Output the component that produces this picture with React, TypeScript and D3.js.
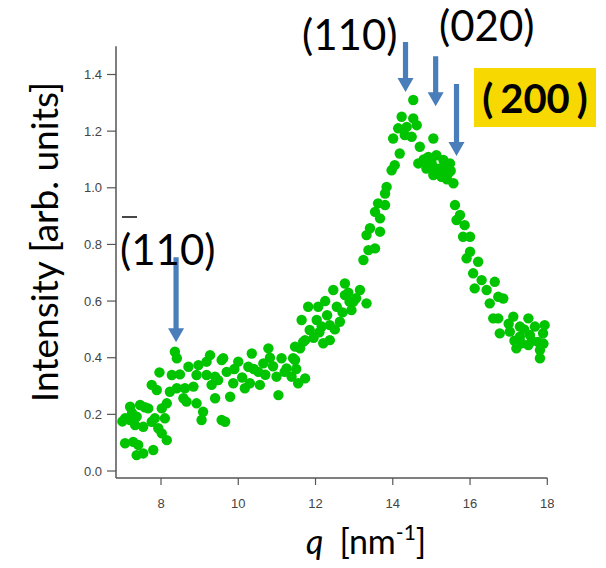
import React from "react";
import * as d3 from "d3";

const qValues = [
  7.0, 7.07, 7.2, 7.2, 7.46, 7.37, 7.33, 7.54, 7.67, 7.76, 7.84, 7.93, 8.02, 8.15, 8.1, 8.02, 8.15,
  7.07, 7.28, 7.41, 7.37, 7.54, 7.8, 7.58, 7.25,
  7.76, 7.89, 7.96, 8.23, 8.28, 8.36, 8.41, 8.41, 8.49, 8.58, 8.62, 8.66, 8.71, 8.84, 8.92, 8.92,
  8.97, 9.05, 9.09, 9.18, 9.18, 9.27, 9.31, 9.4, 9.4, 9.48, 9.57, 9.57, 9.61, 9.66, 9.79, 9.87,
  10.0, 10.17, 10.26, 10.35, 10.52, 10.56, 10.78, 10.82, 10.65, 10.99, 11.04, 11.12, 11.25, 11.38,
  11.47, 11.47, 11.6, 11.73, 11.73, 11.42, 11.68,
  10.1, 10.4, 10.7, 10.9, 11.2, 11.5, 11.55, 10.3, 9.7, 9.9,
  11.85, 11.64, 11.81, 12.07, 12.03, 12.16, 12.2, 12.37, 12.37, 12.55, 12.63, 12.46, 12.76, 12.76,
  12.93, 12.98, 13.15, 13.32, 12.88,
  12.1, 12.3, 12.5, 12.7, 12.85, 13.05, 12.25, 11.95,
  13.24, 13.37, 13.54, 13.32, 13.41, 13.67, 13.54, 13.67, 13.62, 13.8, 13.8, 13.84, 13.97, 14.05,
  14.18, 14.01, 14.14, 14.23, 14.36, 14.31, 14.49, 14.53, 14.62, 14.53, 14.7, 14.66, 14.87, 14.92,
  15.05, 15.05, 15.05, 15.13, 15.22, 15.26, 15.31, 15.44, 15.48, 15.57,
  15.15, 15.35, 15.0, 14.8, 15.4, 15.2, 15.5,
  15.61, 15.74, 15.65, 15.86, 15.82, 16.0, 16.0, 15.91, 16.21, 16.08, 16.3, 16.64, 16.12, 16.43,
  16.73, 16.86, 16.51, 16.6, 16.73, 17.12, 17.51, 17.93, 16.77, 17.03, 17.29, 17.68, 17.29, 17.55,
  17.89, 17.33, 17.51, 17.76, 17.2, 17.81, 17.81,
  17.0, 17.4, 17.6, 17.15, 17.9,
];

const intensityValues = [
  0.175, 0.186, 0.18, 0.227, 0.233, 0.192, 0.162, 0.156, 0.221, 0.174, 0.186, 0.151, 0.133, 0.109, 0.186, 0.221, 0.239,
  0.098, 0.103, 0.092, 0.056, 0.062, 0.074, 0.225, 0.205,
  0.304, 0.286, 0.348, 0.28, 0.339, 0.421, 0.398, 0.292, 0.341, 0.257, 0.292, 0.245, 0.368, 0.298, 0.239, 0.339,
  0.374, 0.18, 0.209, 0.339, 0.386, 0.409, 0.304, 0.257, 0.333, 0.321, 0.392, 0.18, 0.398, 0.174, 0.262, 0.31,
  0.386, 0.292, 0.368, 0.415, 0.35, 0.304, 0.433, 0.4, 0.38, 0.333, 0.268, 0.398, 0.362, 0.333,
  0.392, 0.439, 0.433, 0.327, 0.462, 0.398, 0.456,
  0.33, 0.36, 0.34, 0.37, 0.35, 0.36, 0.31, 0.31, 0.35, 0.36,
  0.498, 0.533, 0.58, 0.58, 0.533, 0.51, 0.451, 0.462, 0.515, 0.58, 0.527, 0.639, 0.662, 0.621,
  0.568, 0.598, 0.639, 0.592, 0.598,
  0.49, 0.55, 0.5, 0.56, 0.63, 0.61, 0.6, 0.47,
  0.745, 0.78, 0.786, 0.833, 0.857, 0.845, 0.915, 0.892, 0.945, 0.939, 0.98, 1.003, 1.062, 1.08,
  1.121, 1.174, 1.21, 1.251, 1.215, 1.186, 1.18, 1.245, 1.221, 1.31, 1.145, 1.086, 1.068, 1.109,
  1.174, 1.074, 1.045, 1.115, 1.068, 1.039, 1.098, 1.051, 1.086, 1.016,
  1.06, 1.07, 1.09, 1.1, 1.03, 1.05, 1.06,
  0.939, 0.904, 0.886, 0.868, 0.827, 0.827, 0.774, 0.751, 0.739, 0.698, 0.674, 0.668, 0.645, 0.639,
  0.615, 0.609, 0.592, 0.539, 0.539, 0.545, 0.539, 0.515, 0.486, 0.492, 0.51, 0.51, 0.474, 0.48,
  0.486, 0.451, 0.445, 0.456, 0.433, 0.427, 0.398,
  0.52, 0.5, 0.46, 0.46, 0.45,
];

const xTicks = [8, 10, 12, 14, 16, 18];
const yTicks = [0.0, 0.2, 0.4, 0.6, 0.8, 1.0, 1.2, 1.4];

// peak annotation arrows: q position, tip intensity, arrow length (px)
const arrowQ = [14.33, 15.11, 15.65, 8.39];
const arrowTip = [1.338, 1.288, 1.112, 0.455];
const arrowLen = [50, 50, 72, 85];

const W = 606;
const H = 568;

export default function App() {
  const x = d3.scaleLinear().domain([8, 18]).range([161, 547.3]);
  const y = d3.scaleLinear().domain([0, 1.4]).range([471, 74.5]);
  const axisY = 478;
  const axisX = 116;
  const axisColor = "#555";
  const tickFont = "'Liberation Sans', Arial, sans-serif";
  const labelFont = "Lato, 'Open Sans', sans-serif";
  const arrowColor = "#4a7ebb";

  const points = qValues.map((q, i) => ({ q, v: intensityValues[i] }));

  const arrow = (cx: number, tipY: number, len: number, key: number) => {
    const shaft = 2.6;
    const headW = 8;
    const headL = 14;
    const top = tipY - len;
    const d = [
      [cx - shaft, top],
      [cx + shaft, top],
      [cx + shaft, tipY - headL],
      [cx + headW, tipY - headL],
      [cx, tipY],
      [cx - headW, tipY - headL],
      [cx - shaft, tipY - headL],
    ];
    return <polygon key={key} points={d.map((p) => p.join(",")).join(" ")} fill={arrowColor} />;
  };

  return (
    <svg
      width={W}
      height={H}
      style={{ position: "absolute", left: 0, top: 0, background: "#fff" }}
    >
      <rect x={0} y={0} width={W} height={H} fill="#fff" />
      {/* axes */}
      <line x1={axisX} y1={axisY} x2={x(18)} y2={axisY} stroke={axisColor} strokeWidth={1.5} />
      <line x1={axisX} y1={axisY} x2={axisX} y2={y(1.5)} stroke={axisColor} strokeWidth={1.5} />
      {xTicks.map((t) => (
        <g key={"xt" + t}>
          <line x1={x(t)} x2={x(t)} y1={axisY} y2={axisY + 7} stroke={axisColor} strokeWidth={1.2} />
          <text
            x={x(t)}
            y={axisY + 30}
            textAnchor="middle"
            fontFamily={tickFont}
            fontSize={13}
            fill="#444"
          >
            {t}
          </text>
        </g>
      ))}
      {yTicks.map((t) => (
        <g key={"yt" + t}>
          <line x1={axisX - 9} x2={axisX} y1={y(t)} y2={y(t)} stroke={axisColor} strokeWidth={1.2} />
          <text
            x={axisX - 14}
            y={y(t) + 4.5}
            textAnchor="end"
            fontFamily={tickFont}
            fontSize={13}
            fill="#444"
          >
            {t.toFixed(1)}
          </text>
        </g>
      ))}

      {/* data */}
      {points.map((p, i) => (
        <circle key={i} cx={x(p.q)} cy={y(p.v)} r={5.2} fill="#00c400" />
      ))}

      {/* arrows */}
      {arrowQ.map((q, i) => arrow(x(q), y(arrowTip[i]), arrowLen[i], i))}

      {/* annotations */}
      <text x={302} y={50} fontFamily={labelFont} fontSize={42} fill="#000">
        (110)
      </text>
      <text x={439} y={41} fontFamily={labelFont} fontSize={42} fill="#000">
        (020)
      </text>
      <rect x={474} y={68} width={122} height={59} fill="#f7d800" />
      <text x={535} y={113} textAnchor="middle" fontFamily={labelFont} fontSize={40} fontWeight="bold" fill="#000">
        <tspan>(</tspan>
        <tspan dx={7}>200</tspan>
        <tspan dx={7}>)</tspan>
      </text>
      <line x1={122} x2={137} y1={217} y2={217} stroke="#333" strokeWidth={1.8} />
      <text x={120} y={265} fontFamily={labelFont} fontSize={42} fill="#000">
        (110)
      </text>

      {/* axis titles */}
      <text
        transform={`translate(58,242) rotate(-90)`}
        textAnchor="middle"
        fontFamily={labelFont}
        fontSize={37}
        fill="#000"
      >
        Intensity [arb. units]
      </text>
      <text x={306} y={554} fontFamily={labelFont} fontSize={34} fill="#000">
        <tspan fontStyle="italic">q</tspan>
        <tspan dx={16}>[nm</tspan>
        <tspan fontSize={21} dy={-14}>-1</tspan>
        <tspan dy={14}>]</tspan>
      </text>
    </svg>
  );
}
